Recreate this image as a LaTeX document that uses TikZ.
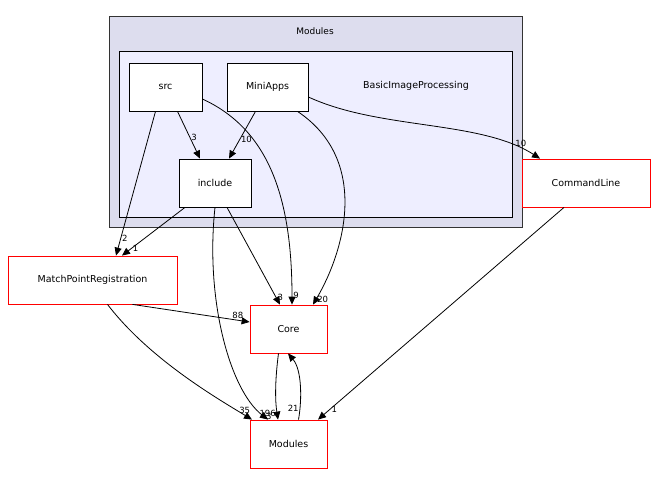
\documentclass[tikz,border=0pt]{standalone}
\usepackage{fontspec}
\setmainfont{DejaVu Sans}
\usetikzlibrary{arrows.meta}
\definecolor{outerfill}{HTML}{DDDDEE}
\definecolor{innerfill}{HTML}{EEEEFF}
\tikzset{
  dir/.style={draw=black, fill=white, minimum height=48pt, inner sep=0pt, font=\fontsize{9.5}{11}\selectfont},
  ext/.style={dir, draw=red},
  dep/.style={-{Triangle[length=8pt,width=7pt]}, black},
  num/.style={font=\fontsize{8.5}{9}\selectfont, inner sep=1pt}
}
\begin{document}
\begin{tikzpicture}[x=1pt, y=-1pt, line width=0.8pt]
  \useasboundingbox (0,0) rectangle (655,500);
  % clusters
  \filldraw[fill=outerfill, draw=black!80] (109,16) rectangle (522,227);
  \node[font=\fontsize{9}{10}\selectfont] at (315,31) {Modules};
  \filldraw[fill=innerfill, draw=black] (119,51) rectangle (512,217);
  \node[font=\fontsize{9.5}{11}\selectfont] at (416,86) {BasicImageProcessing};

  \node[dir, minimum width=73pt] (src) at (165.5,87) {src};
  \node[dir, minimum width=81pt] (miniapps) at (267.5,87) {MiniApps};
  \node[dir, minimum width=72pt] (include) at (215,183) {include};
  \node[ext, minimum width=128pt] (cmdline) at (586,183) {CommandLine};
  \node[ext, minimum width=169pt] (mpr) at (92.5,280) {MatchPointRegistration};
  \node[ext, minimum width=77pt] (core) at (288.5,329) {Core};
  \node[ext, minimum width=77pt] (modules) at (288.5,444) {Modules};

  % dependencies
  \draw[dep] (src.south) ++(12,0) -- (include.north -| 200,0) node[num, pos=0.55, right] {3};
  \draw[dep] (src.south) ++(-10,0) -- (mpr.north -| 116,0) node[num, pos=0.88, right] {2};
  \draw[dep] (src.east) ++(0,12) .. controls (270,130) and (292,200) .. (core.north -| 292,0)
    node[num, pos=0.97, right] {9};
  \draw[dep] (miniapps.south) ++(-12,0) -- (include.north -| 229,0) node[num, pos=0.6, right] {10};
  \draw[dep] (miniapps.south) ++(30,0) .. controls (370,160) and (345,250) .. (core.north -| 313,0)
    node[num, pos=0.97, right] {20};
  \draw[dep] (miniapps.east) ++(0,10) .. controls (380,130) and (480,120) .. (cmdline.north -| 540,0)
    node[num, pos=0.9, above] {10};
  \draw[dep] (include.south) ++(-30,0) -- (mpr.north -| 122,0) node[num, pos=0.85, right] {1};
  \draw[dep] (include.south) ++(12,0) -- (core.north -| 280,0) node[num, pos=0.93, right] {3};
  \draw[dep] (include.south) ++(0,0) .. controls (205,300) and (230,390) .. (modules.north -| 268,0)
    node[num, pos=0.97, right] {3};
  \draw[dep] (mpr.south) ++(40,0) -- (core.west |- 0,322) node[num, pos=0.9, above] {88};
  \draw[dep] (mpr.south) ++(15,0) .. controls (150,360) and (220,400) .. (modules.north -| 252,0)
    node[num, pos=0.93, above] {35};
  \draw[dep] (cmdline.south) ++(-22,0) -- (modules.north -| 318,0) node[num, pos=0.95, right] {1};
  \draw[dep] (core.south) ++(-10,0) .. controls (275,380) and (275,400) .. (modules.north -| 278,0)
    node[num, pos=0.9, left] {196};
  \draw[dep] (modules.north) ++(10,0) .. controls (302,400) and (302,370) .. (core.south -| 288,0)
    node[num, pos=0.18, left] {21};
\end{tikzpicture}
\end{document}
